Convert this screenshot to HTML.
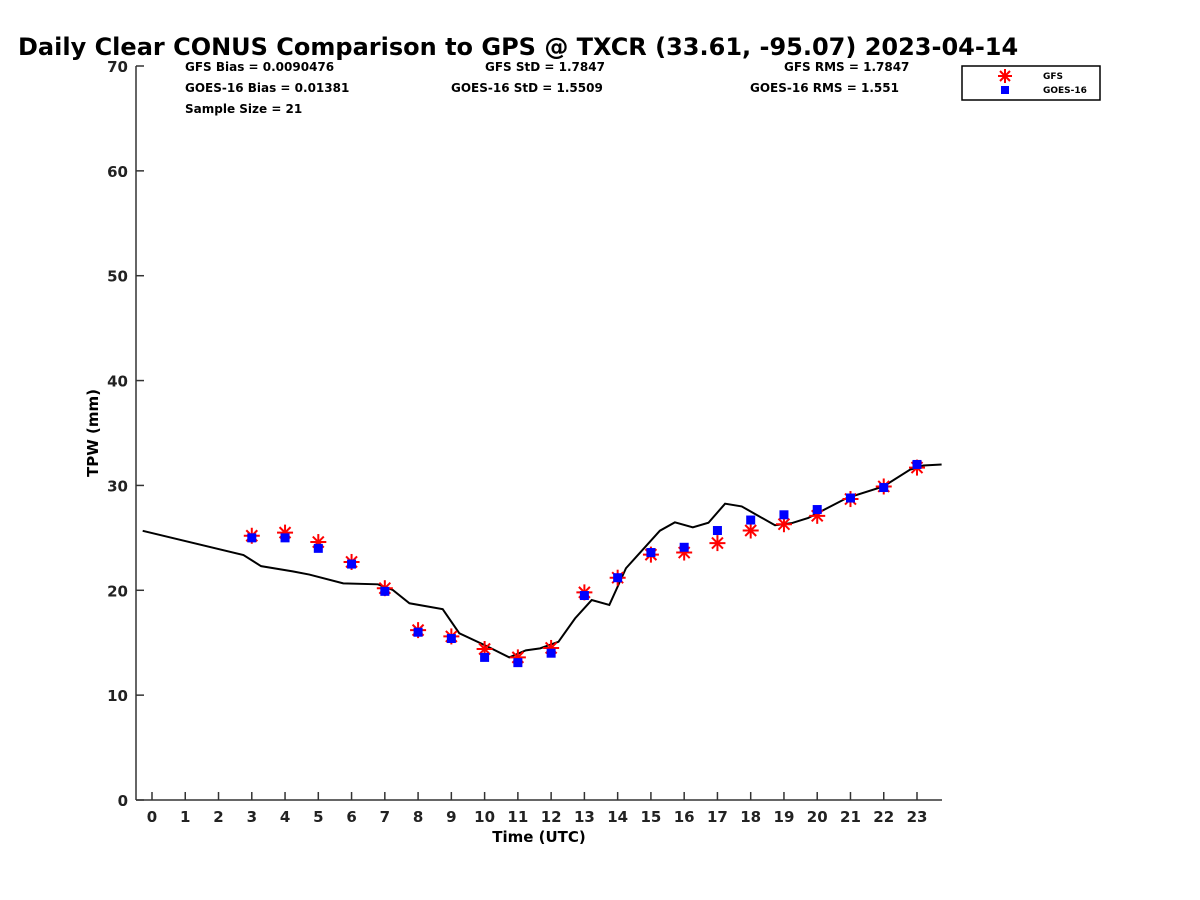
<!DOCTYPE html>
<html><head><meta charset="utf-8"><style>body{margin:0;background:#fff}svg{display:block;font-family:"DejaVu Sans","Liberation Sans",sans-serif}</style></head>
<body>
<svg id="c" width="1200" height="900" xmlns="http://www.w3.org/2000/svg">
<text x="18" y="55" font-size="24" font-weight="bold">Daily Clear CONUS Comparison to GPS @ TXCR (33.61, -95.07) 2023-04-14</text>
<g font-size="12" font-weight="bold">
<text x="185" y="71">GFS Bias = 0.0090476</text>
<text x="185" y="92">GOES-16 Bias = 0.01381</text>
<text x="185" y="113">Sample Size = 21</text>
<text x="485" y="71">GFS StD = 1.7847</text>
<text x="451" y="92">GOES-16 StD = 1.5509</text>
<text x="784" y="71">GFS RMS = 1.7847</text>
<text x="750" y="92">GOES-16 RMS = 1.551</text>
</g>
<g>
<rect x="962" y="66" width="138" height="34" fill="#fff" stroke="#000" stroke-width="1.5"/>
<g stroke="red" stroke-width="2"><line x1="998" y1="76" x2="1012" y2="76"/><line x1="1005" y1="69" x2="1005" y2="83"/><line x1="1000" y1="71" x2="1010" y2="81"/><line x1="1000" y1="81" x2="1010" y2="71"/></g>
<rect x="1001" y="86" width="8" height="8" fill="#0000ff"/>
<text x="1043" y="79" font-size="9" font-weight="bold">GFS</text>
<text x="1043" y="93" font-size="9" font-weight="bold">GOES-16</text>
</g>
<g id="axes"></g>
<g id="plot"></g>
<text x="539" y="842" font-size="15" font-weight="bold" text-anchor="middle">Time (UTC)</text>
<text transform="translate(98,433) rotate(-90)" font-size="15" font-weight="bold" text-anchor="middle">TPW (mm)</text>
</svg>
<script>
const gpsTime=[-0.28,2.75,3.28,4.23,4.73,5.75,6.79,7.24,7.74,8.74,9.24,10.04,10.74,11.24,11.67,12.22,12.72,13.22,13.75,14.25,15.27,15.72,16.26,16.73,17.23,17.73,18.23,18.73,19.23,19.73,20.89,21.99,22.79,23.19,23.74];
const gpsVal=[25.67,23.36,22.3,21.8,21.5,20.66,20.57,20.03,18.76,18.2,15.9,14.71,13.6,14.27,14.46,15.09,17.32,19.07,18.6,22.1,25.68,26.48,26.0,26.44,28.26,28.0,27.1,26.2,26.4,26.9,28.8,29.9,31.5,31.9,32.0];
const hours=[3,4,5,6,7,8,9,10,11,12,13,14,15,16,17,18,19,20,21,22,23];
const gfsVal=[25.2,25.5,24.6,22.7,20.2,16.2,15.6,14.4,13.6,14.5,19.8,21.2,23.4,23.6,24.5,25.7,26.3,27.1,28.7,29.9,31.7];
const goesVal=[25.0,25.0,24.0,22.5,19.9,16.0,15.4,13.6,13.1,14.0,19.5,21.2,23.6,24.1,25.7,26.7,27.2,27.7,28.8,29.8,32.0];
const xTicks=[0,1,2,3,4,5,6,7,8,9,10,11,12,13,14,15,16,17,18,19,20,21,22,23];
const yTicks=[0,10,20,30,40,50,60,70];
const NS='http://www.w3.org/2000/svg';
const X=h=>152+h*(917-152)/23, Y=v=>800-v*(800-66)/70;
function mk(t,a,p){const e=document.createElementNS(NS,t);for(const k in a)e.setAttribute(k,a[k]);p.appendChild(e);return e;}
const ax=document.getElementById('axes'), pl=document.getElementById('plot');
let e=mk('line',{x1:136,y1:66,x2:136,y2:800,stroke:'#333','stroke-width':1.5},ax);


e=mk('line',{x1:136,y1:800,x2:942,y2:800,stroke:'#333','stroke-width':1.5},ax);


yTicks.forEach(v=>{mk('line',{x1:136,y1:Y(v),x2:144,y2:Y(v),stroke:'#333','stroke-width':1.5},ax);
const t=mk('text',{x:128,y:Y(v)+6,'font-size':15,'font-weight':'bold','text-anchor':'end',fill:'#222'},ax);t.textContent=v;

});
xTicks.forEach(h=>{mk('line',{x1:X(h),y1:800,x2:X(h),y2:792,stroke:'#333','stroke-width':1.5},ax);
const t=mk('text',{x:X(h),y:822,'font-size':15,'font-weight':'bold','text-anchor':'middle',fill:'#222'},ax);t.textContent=h;

});
const ln=mk('polyline',{points:gpsTime.map((h,i)=>X(h)+','+Y(gpsVal[i])).join(' '),fill:'none',stroke:'#000','stroke-width':2},pl);


hours.forEach((h,i)=>{const cx=X(h),cy=Y(gfsVal[i]);
const g=mk('g',{stroke:'red','stroke-width':2},pl);


mk('line',{x1:cx-8,y1:cy,x2:cx+8,y2:cy},g);mk('line',{x1:cx,y1:cy-8,x2:cx,y2:cy+8},g);
mk('line',{x1:cx-5.5,y1:cy-5.5,x2:cx+5.5,y2:cy+5.5},g);mk('line',{x1:cx-5.5,y1:cy+5.5,x2:cx+5.5,y2:cy-5.5},g);
const r=mk('rect',{x:X(h)-4.5,y:Y(goesVal[i])-4.5,width:9,height:9,fill:'#0000ff'},pl);

});
</script>
</body></html>
